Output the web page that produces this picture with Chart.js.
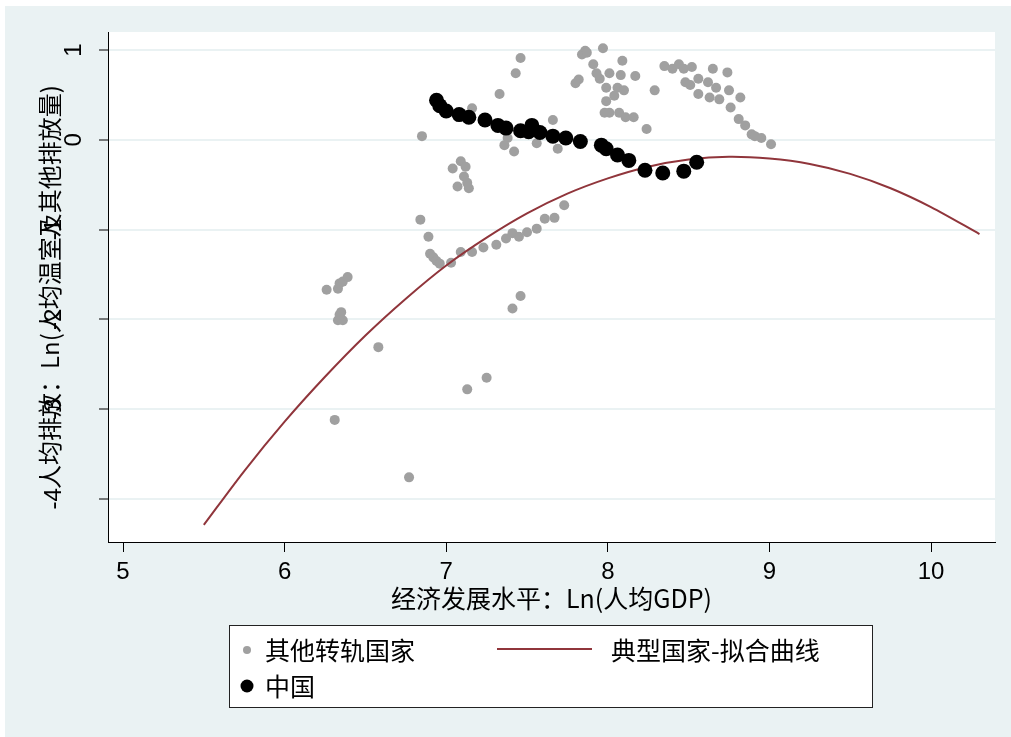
<!DOCTYPE html>
<html>
<head>
<meta charset="utf-8">
<script src="https://cdn.jsdelivr.net/npm/chart.js@4.4.0/dist/chart.umd.min.js"></script>
<style>
    html, body { margin: 0; padding: 0; background: #ffffff; }
    canvas { display: block; }
</style>
</head>
<body>
<canvas id="kuznetsChart" width="1011" height="737"></canvas>
<script>
// ----------------- data -----------------
const xTicks = [5, 6, 7, 8, 9, 10];
const yTicks = [-4, -3, -2, -1, 0, 1];

// 其他转轨国家 (grey dots)
const otherX = [7.46, 7.43, 7.33, 7.16, 6.85, 7.86, 7.84, 7.87, 7.97, 7.91, 8.09, 7.93, 8.01, 8.08, 8.17, 7.95, 7.82, 7.80,
    7.99, 8.06, 8.10, 8.29, 8.04, 7.99, 7.98, 8.01, 8.07, 8.11, 8.16, 8.24, 7.66, 7.69, 7.56, 7.38, 7.36, 7.42,
    7.09, 7.04, 7.12, 7.11, 7.07, 7.14, 7.13, 6.84, 8.35, 8.40, 8.44, 8.47, 8.52, 8.48, 8.51, 8.56, 8.62, 8.56,
    8.63, 8.65, 8.67, 8.69, 8.74, 8.75, 8.82, 8.76, 8.81, 8.85, 8.89, 8.91, 8.95, 9.01, 6.89, 6.90, 6.92, 6.94,
    6.96, 7.03, 7.09, 7.16, 7.23, 7.31, 7.37, 7.41, 7.45, 7.50, 7.56, 7.61, 7.67, 7.73, 6.26, 6.33, 6.34, 6.36,
    6.39, 6.35, 6.33, 6.36, 6.34, 6.58, 6.31, 6.77, 7.13, 7.25, 7.41, 7.46];
const otherY = [0.91, 0.74, 0.51, 0.35, 0.04, 0.99, 0.95, 0.97, 1.02, 0.84, 0.88, 0.74, 0.74, 0.72, 0.71, 0.68, 0.67, 0.63,
    0.58, 0.58, 0.55, 0.55, 0.49, 0.43, 0.30, 0.30, 0.30, 0.25, 0.25, 0.12, 0.22, -0.10, -0.04, 0.02, -0.06, -0.13,
    -0.24, -0.32, -0.30, -0.41, -0.52, -0.54, -0.48, -0.89, 0.82, 0.79, 0.84, 0.79, 0.81, 0.64, 0.61, 0.68, 0.64, 0.51,
    0.47, 0.79, 0.58, 0.45, 0.75, 0.55, 0.47, 0.36, 0.23, 0.16, 0.06, 0.04, 0.02, -0.05, -1.08, -1.27, -1.31, -1.35,
    -1.38, -1.37, -1.25, -1.25, -1.20, -1.17, -1.10, -1.04, -1.08, -1.03, -0.99, -0.88, -0.87, -0.73, -1.67, -1.66, -1.60, -1.58,
    -1.53, -1.92, -2.01, -2.01, -1.95, -2.31, -3.12, -3.76, -2.78, -2.65, -1.88, -1.74];

// 中国 (black dots)
const chinaX = [6.94, 6.96, 7.00, 7.08, 7.14, 7.24, 7.32, 7.37, 7.46, 7.51, 7.53, 7.58, 7.66, 7.74, 7.83, 7.96, 7.99,
    8.06, 8.13, 8.23, 8.34, 8.47, 8.55];
const chinaY = [0.44, 0.38, 0.32, 0.28, 0.25, 0.22, 0.16, 0.13, 0.10, 0.09, 0.16, 0.08, 0.04, 0.02, -0.02, -0.06, -0.10,
    -0.17, -0.23, -0.34, -0.37, -0.35, -0.25];

// 典型国家-拟合曲线 (maroon curve)
const fitX = [5.5, 5.75, 6.0, 6.25, 6.5, 6.75, 7.0, 7.25, 7.5, 7.75, 8.0, 8.25, 8.5, 8.75, 9.0, 9.25, 9.5, 9.75, 10.0, 10.3];
const fitY = [-4.29, -3.69, -3.14, -2.64, -2.18, -1.77, -1.40, -1.09, -0.82, -0.60, -0.43, -0.30, -0.22, -0.19, -0.21,
    -0.27, -0.38, -0.54, -0.75, -1.05];

const GREY = 'rgb(160,160,160)';
const MAROON = 'rgb(144,53,59)';
const BG = 'rgb(234,242,243)';
const CJK = '"Noto Sans CJK SC", "Liberation Sans", sans-serif';

function toPoints(xs, ys) {
    return xs.map((x, i) => ({ x: x, y: ys[i] }));
}

// backgrounds: outer bluish grey, plot region white
const backgroundPlugin = {
    id: 'stataBackground',
    beforeDraw(chart) {
        const ctx = chart.ctx;
        const a = chart.chartArea;
        ctx.save();
        ctx.fillStyle = '#ffffff';
        ctx.fillRect(0, 0, chart.width, chart.height);
        ctx.fillStyle = BG;
        ctx.fillRect(5, 6, chart.width - 5, chart.height - 6);
        ctx.fillStyle = '#ffffff';
        ctx.fillRect(a.left, a.top, a.right - a.left, a.bottom - a.top);
        ctx.restore();
    }
};

// rotated y labels, axis titles and the boxed legend
const annotatePlugin = {
    id: 'stataText',
    afterDraw(chart) {
        const ctx = chart.ctx;
        const a = chart.chartArea;
        const yScale = chart.scales.y;
        ctx.save();
        ctx.fillStyle = '#000';

        // y tick labels, turned sideways
        ctx.font = '24px "Liberation Sans", sans-serif';
        ctx.textAlign = 'center';
        ctx.textBaseline = 'middle';
        yTicks.forEach(v => {
            const py = yScale.getPixelForValue(v);
            const px = v >= 0 ? 74 : 54;
            ctx.save();
            ctx.translate(px, py);
            ctx.rotate(-Math.PI / 2);
            ctx.fillText(String(v), 0, 0);
            ctx.restore();
        });

        // y title
        ctx.font = '24px ' + CJK;
        ctx.save();
        ctx.translate(50, (a.top + a.bottom) / 2);
        ctx.rotate(-Math.PI / 2);
        ctx.fillText('人均排放：Ln(人均温室及其他排放量)', 0, 0);
        ctx.restore();

        // x title
        ctx.font = '25px ' + CJK;
        ctx.fillText('经济发展水平：Ln(人均GDP)', (a.left + a.right) / 2, 598);

        // legend box
        ctx.fillStyle = '#ffffff';
        ctx.fillRect(229, 625, 643, 82);
        ctx.strokeStyle = '#222';
        ctx.lineWidth = 1;
        ctx.strokeRect(229.5, 625.5, 643, 82);

        ctx.fillStyle = GREY;
        ctx.beginPath();
        ctx.arc(247, 650, 4, 0, Math.PI * 2);
        ctx.fill();

        ctx.fillStyle = '#000';
        ctx.beginPath();
        ctx.arc(247, 686, 6.5, 0, Math.PI * 2);
        ctx.fill();

        ctx.strokeStyle = MAROON;
        ctx.lineWidth = 2;
        ctx.beginPath();
        ctx.moveTo(497, 649);
        ctx.lineTo(592, 649);
        ctx.stroke();

        ctx.fillStyle = '#000';
        ctx.textAlign = 'left';
        ctx.font = '25px ' + CJK;
        ctx.fillText('其他转轨国家', 265, 650);
        ctx.fillText('典型国家-拟合曲线', 611, 650);
        ctx.fillText('中国', 265, 686);
        ctx.restore();
    }
};

let kuznetsChart;

function renderChart() {
    const ctx = document.getElementById('kuznetsChart').getContext('2d');
    Chart.defaults.font.family = '"Liberation Sans", sans-serif';

    kuznetsChart = new Chart(ctx, {
        type: 'scatter',
        data: {
            datasets: [
                {
                    label: '中国',
                    data: toPoints(chinaX, chinaY),
                    backgroundColor: '#000',
                    borderWidth: 0,
                    pointRadius: 7.5,
                    order: 0
                },
                {
                    label: '典型国家-拟合曲线',
                    type: 'line',
                    data: toPoints(fitX, fitY),
                    borderColor: MAROON,
                    borderWidth: 2,
                    pointRadius: 0,
                    tension: 0.3,
                    fill: false,
                    order: 1
                },
                {
                    label: '其他转轨国家',
                    data: toPoints(otherX, otherY),
                    backgroundColor: GREY,
                    borderWidth: 0,
                    pointRadius: 5,
                    order: 2
                }
            ]
        },
        options: {
            responsive: false,
            devicePixelRatio: 1,
            animation: false,
            layout: { padding: { left: 0, right: 16, top: 32, bottom: 0 } },
            plugins: {
                legend: { display: false },
                tooltip: { enabled: false }
            },
            scales: {
                x: {
                    type: 'linear',
                    min: 4.907,
                    max: 10.396,
                    afterBuildTicks: s => { s.ticks = xTicks.map(v => ({ value: v })); },
                    afterFit: s => { s.height = 195; },
                    border: { display: true, color: '#000', width: 1 },
                    grid: { drawOnChartArea: false, drawTicks: true, tickLength: 10, tickColor: '#000' },
                    ticks: { color: '#000', font: { size: 24 }, padding: 6, maxRotation: 0 }
                },
                y: {
                    type: 'linear',
                    min: -4.48,
                    max: 1.2,
                    afterBuildTicks: s => { s.ticks = yTicks.map(v => ({ value: v })); },
                    afterFit: s => { s.width = 108; },
                    border: { display: true, color: '#000', width: 1 },
                    grid: { color: BG, lineWidth: 2, drawTicks: true, tickLength: 9, tickColor: '#000', tickWidth: 1 },
                    ticks: { display: false }
                }
            }
        },
        plugins: [backgroundPlugin, annotatePlugin]
    });
}

// Initial load
renderChart();
</script>
</body>
</html>
